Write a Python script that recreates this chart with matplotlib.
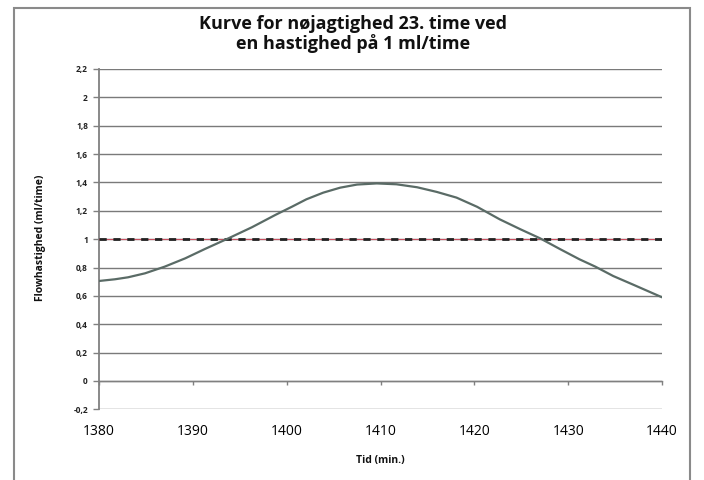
import matplotlib
matplotlib.use("Agg")
import matplotlib.pyplot as plt
from matplotlib.patches import Rectangle

# Data
time_min = [1380, 1381.7, 1383.1, 1384.9, 1387.0, 1389.2, 1391.3, 1393.8, 1396.3,
            1398.8, 1400.6, 1402.1, 1403.9, 1405.7, 1407.5, 1409.6, 1411.7, 1413.9,
            1416.0, 1418.1, 1420.3, 1422.7, 1424.9, 1427.0, 1429.1, 1431.2, 1432.9,
            1434.8, 1437.0, 1440]
flow = [0.705, 0.717, 0.731, 0.759, 0.806, 0.865, 0.931, 1.006, 1.084,
        1.171, 1.230, 1.281, 1.328, 1.363, 1.385, 1.393, 1.387, 1.366,
        1.333, 1.293, 1.228, 1.140, 1.070, 1.006, 0.931, 0.858, 0.806,
        0.740, 0.677, 0.590]
target_time = [1380, 1440]
target_flow = [1.0, 1.0]

x_ticks = [1380, 1390, 1400, 1410, 1420, 1430, 1440]
y_ticks = [-0.2, 0, 0.2, 0.4, 0.6, 0.8, 1.0, 1.2, 1.4, 1.6, 1.8, 2.0, 2.2]
y_tick_labels = ["-0,2", "0", "0,2", "0,4", "0,6", "0,8", "1", "1,2", "1,4", "1,6", "1,8", "2", "2,2"]

title = "Kurve for nøjagtighed 23. time ved\nen hastighed på 1 ml/time"
xlabel = "Tid (min.)"
ylabel = "Flowhastighed (ml/time)"

plt.rcParams['font.family'] = ['Open Sans', 'DejaVu Sans']

fig = plt.figure(figsize=(7.04, 4.8), dpi=100)
fig.patch.set_facecolor("white")

# outer frame
fig.patches.append(Rectangle((14 / 704, -0.01), (690 - 14) / 704, (480 - 8) / 480 + 0.01,
                             transform=fig.transFigure, fill=False,
                             edgecolor="#8a8a8a", linewidth=1.5))

ax = fig.add_axes([99 / 704, 70.7 / 480, 563 / 704, 340.3 / 480])
ax.set_xlim(1380, 1440)
ax.set_ylim(-0.2, 2.2)

ax.set_yticks(y_ticks)
ax.set_yticklabels(y_tick_labels, fontsize=6, fontweight="bold", color="#222222")
ax.set_xticks(x_ticks)
ax.set_xticklabels([str(t) for t in x_ticks], fontsize=10.5, color="#444444",
                   family=["Lato", "DejaVu Sans"])

ax.yaxis.grid(True, color="#7a7a7a", linewidth=1.0)
ax.set_axisbelow(True)

for s in ["top", "right"]:
    ax.spines[s].set_visible(False)
ax.spines["left"].set_color("#808080")
ax.spines["left"].set_linewidth(1.3)
ax.spines["bottom"].set_position(("data", 0))
ax.spines["bottom"].set_color("#808080")
ax.spines["bottom"].set_linewidth(1.0)

ax.tick_params(axis="y", length=4, width=1, color="#808080", pad=4)
ax.tick_params(axis="x", length=3, width=1, color="#808080", pad=28, direction="out")

# target line (red) + black dashed
ax.plot(target_time, target_flow, color="#c85060", linewidth=0.8, zorder=3)
ax.plot(target_time, target_flow, color="#222222", linewidth=2.0,
        dashes=(2.6, 2.4), zorder=4)

# flow curve
ax.plot(time_min, flow, color="#5a6b66", linewidth=1.6, zorder=5,
        solid_capstyle="round", solid_joinstyle="round")

fig.text(353 / 704, 1 - 34 / 480, title, ha="center", va="center",
         fontsize=13, fontweight="bold", linespacing=1.05, color="#111111")
fig.text(380 / 704, 1 - 460 / 480, xlabel, ha="center", va="center",
         fontsize=7.5, fontweight="bold", color="#111111")
fig.text(41 / 704, 1 - 238 / 480, ylabel, ha="center", va="center",
         rotation=90, fontsize=7.5, fontweight="bold", color="#111111")

fig.savefig("out.png", dpi=100, facecolor="white")
